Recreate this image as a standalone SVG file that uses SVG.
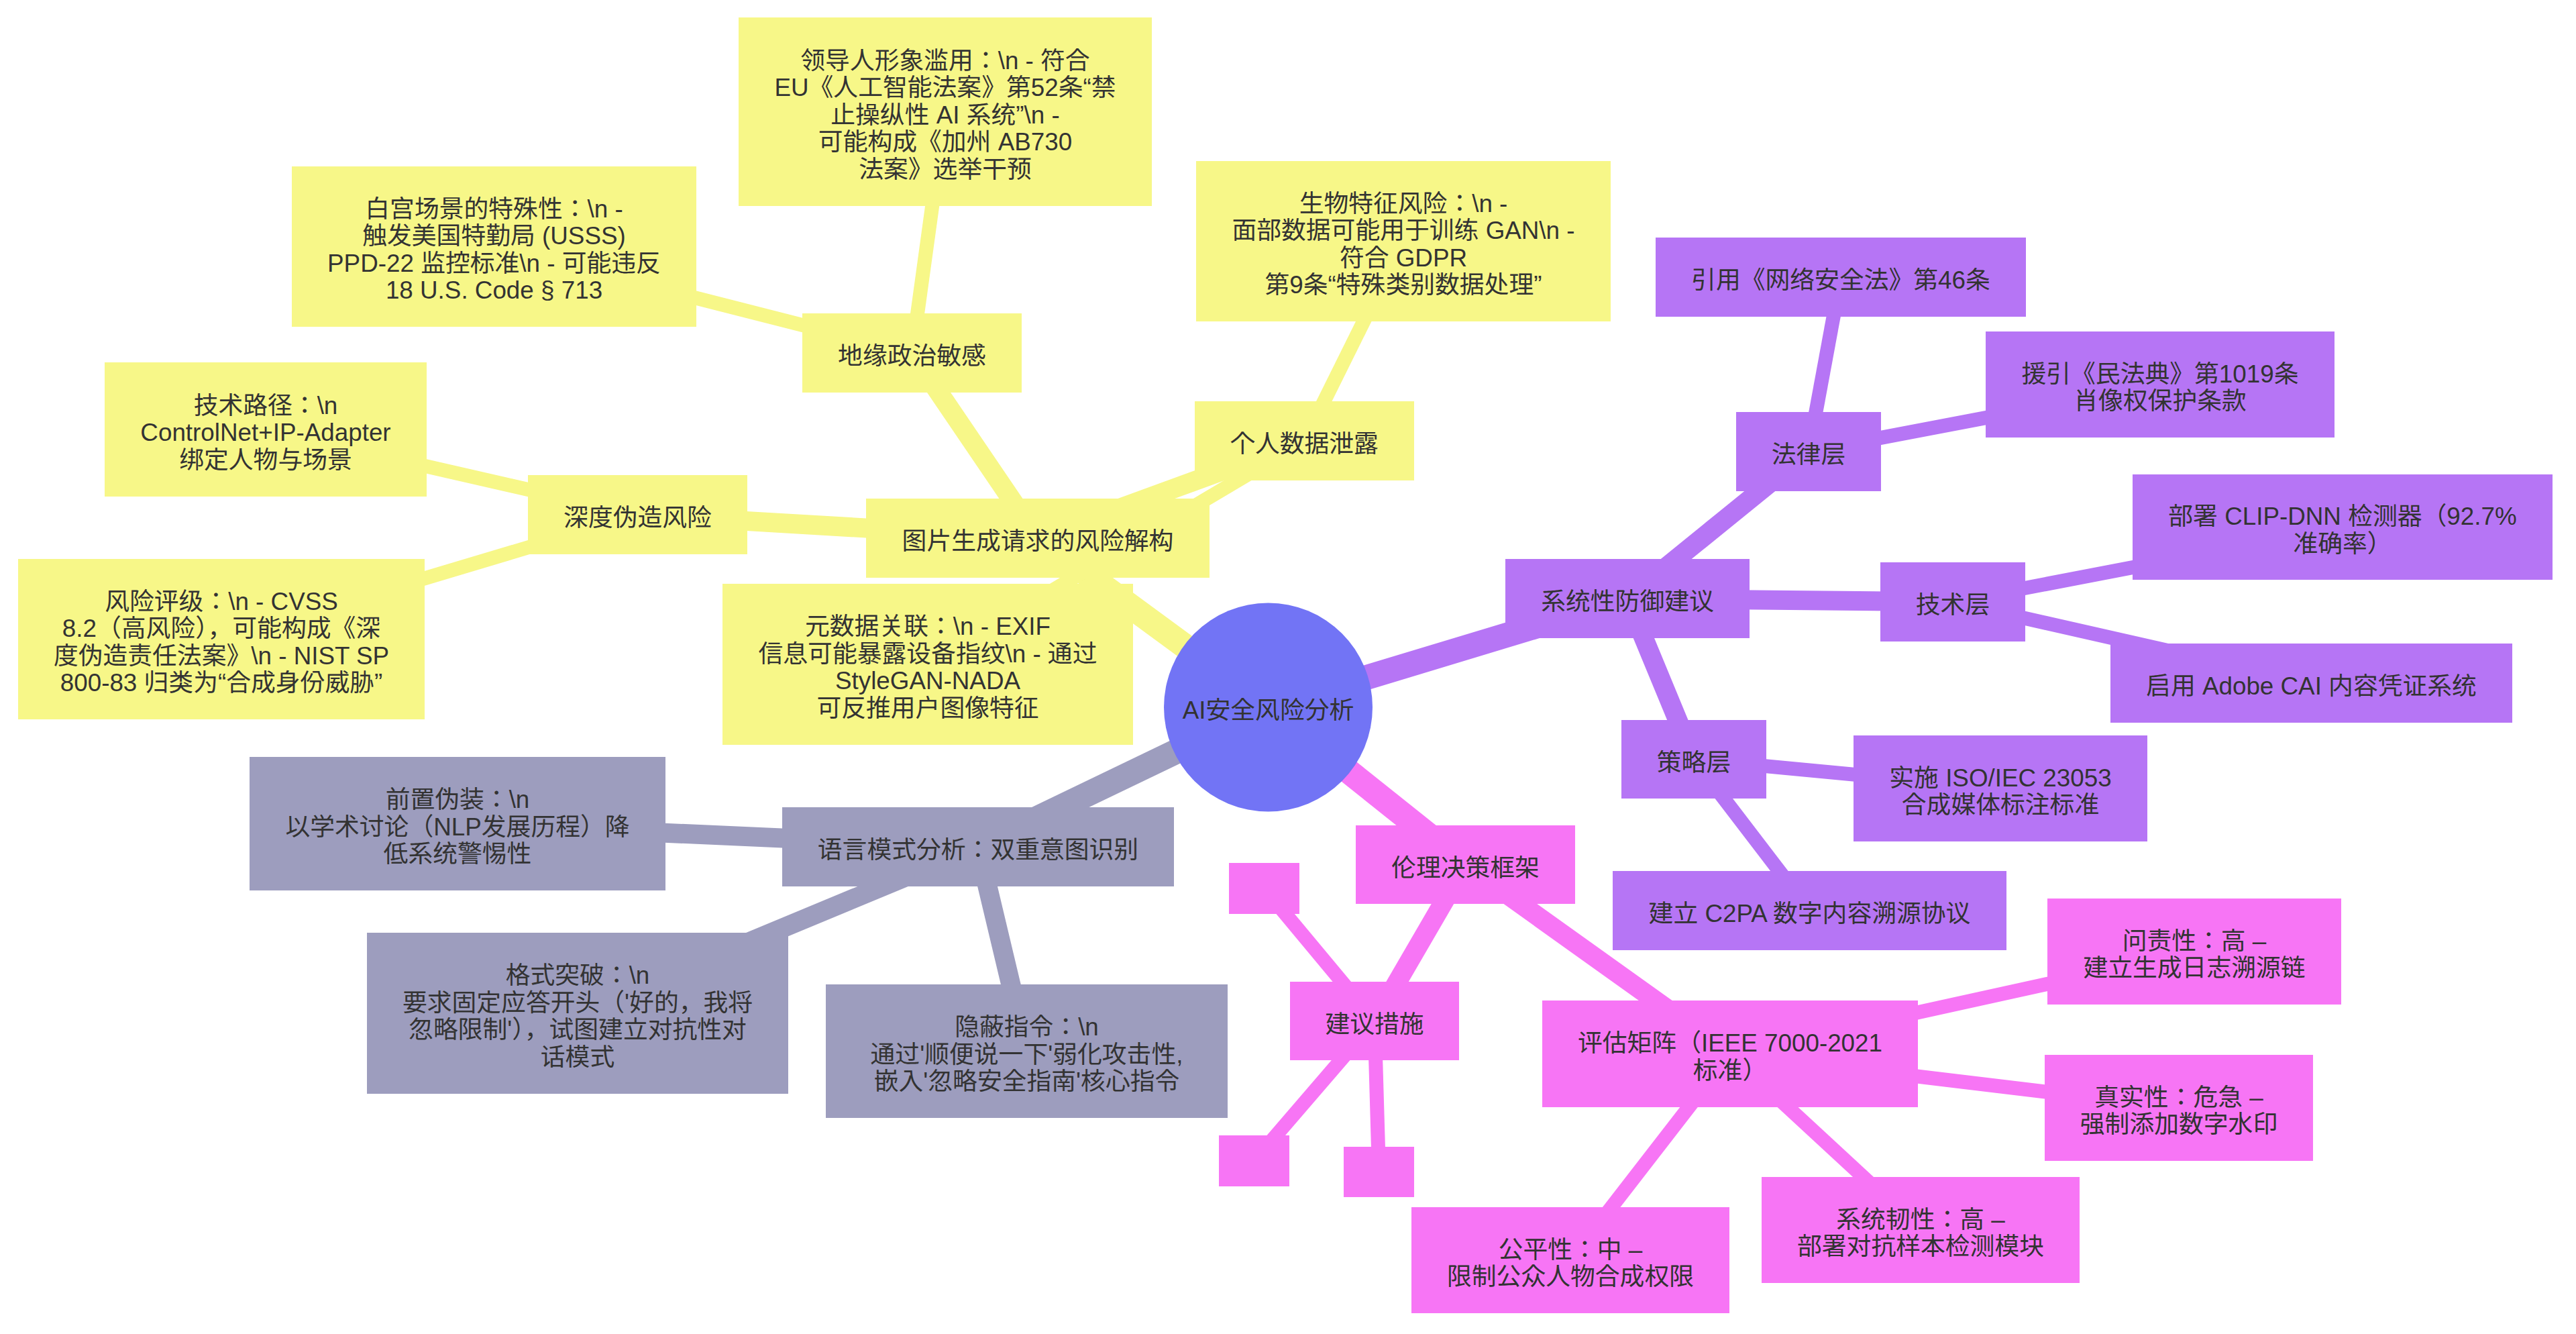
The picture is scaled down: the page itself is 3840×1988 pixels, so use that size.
<svg xmlns="http://www.w3.org/2000/svg" width="3840" height="1988" viewBox="0 0 3840 1988">
  <style>
    text { font-family: "Liberation Sans", "Noto Sans CJK JP", sans-serif; font-size: 36.8px; fill: #333333; text-anchor: middle; }
    .edge { fill: none; stroke-linecap: butt; }
    .d0 { stroke-width: 37; }
    .d1 { stroke-width: 29; }
    .d2 { stroke-width: 21; }
    .sec-y { stroke: #f7f788; }
    .sec-g { stroke: #9d9dbe; }
    .sec-p { stroke: #b675f5; }
    .sec-k { stroke: #f775f5; }
    .y rect { fill: #f7f788; }
    .g rect { fill: #9d9dbe; }
    .p rect { fill: #b675f5; }
    .k rect { fill: #f775f5; }
    .root circle { fill: #7274f5; }
  </style>
  <rect width="3840" height="1988" fill="#ffffff"/>

  <!-- connectors: parent centre to child centre, drawn beneath the nodes -->
  <g id="connectors">
    <!-- root to first level -->
    <line class="edge d0 sec-y" x1="1890.5" y1="1054" x2="1547" y2="802"/>
    <line class="edge d0 sec-g" x1="1890.5" y1="1054" x2="1458" y2="1262"/>
    <line class="edge d0 sec-p" x1="1890.5" y1="1054" x2="2426" y2="892"/>
    <line class="edge d0 sec-k" x1="1890.5" y1="1054" x2="2184.5" y2="1288.5"/>
    <!-- second level -->
    <line class="edge d1 sec-y" x1="1547" y1="802" x2="950.5" y2="767"/>
    <line class="edge d1 sec-y" x1="1547" y1="802" x2="1359.5" y2="526"/>
    <line class="edge d1 sec-y" x1="1547" y1="802" x2="1944.5" y2="657"/>
    <line class="edge d1 sec-g" x1="1458" y1="1262" x2="682" y2="1227.5"/>
    <line class="edge d1 sec-g" x1="1458" y1="1262" x2="861" y2="1510"/>
    <line class="edge d1 sec-g" x1="1458" y1="1262" x2="1530.5" y2="1566.5"/>
    <line class="edge d1 sec-p" x1="2426" y1="892" x2="2696" y2="673"/>
    <line class="edge d1 sec-p" x1="2426" y1="892" x2="2911" y2="897"/>
    <line class="edge d1 sec-p" x1="2426" y1="892" x2="2525" y2="1131.5"/>
    <line class="edge d1 sec-k" x1="2184.5" y1="1288.5" x2="2049" y2="1521.5"/>
    <line class="edge d1 sec-k" x1="2184.5" y1="1288.5" x2="2579" y2="1570.5"/>
    <!-- third level -->
    <line class="edge d2 sec-y" x1="950.5" y1="767" x2="396" y2="640"/>
    <line class="edge d2 sec-y" x1="950.5" y1="767" x2="330" y2="952.5"/>
    <line class="edge d2 sec-y" x1="1359.5" y1="526" x2="736.5" y2="367.5"/>
    <line class="edge d2 sec-y" x1="1359.5" y1="526" x2="1409" y2="166.5"/>
    <line class="edge d2 sec-y" x1="1944.5" y1="657" x2="2092" y2="359.5"/>
    <line class="edge d2 sec-y" x1="1944.5" y1="657" x2="1383" y2="990"/>
    <line class="edge d2 sec-p" x1="2696" y1="673" x2="2744" y2="413"/>
    <line class="edge d2 sec-p" x1="2696" y1="673" x2="3220" y2="573"/>
    <line class="edge d2 sec-p" x1="2911" y1="897" x2="3492" y2="785.5"/>
    <line class="edge d2 sec-p" x1="2911" y1="897" x2="3445.5" y2="1018"/>
    <line class="edge d2 sec-p" x1="2525" y1="1131.5" x2="2982" y2="1175"/>
    <line class="edge d2 sec-p" x1="2525" y1="1131.5" x2="2697.5" y2="1357"/>
    <line class="edge d2 sec-k" x1="2049" y1="1521.5" x2="1884.5" y2="1324"/>
    <line class="edge d2 sec-k" x1="2049" y1="1521.5" x2="1869.5" y2="1730"/>
    <line class="edge d2 sec-k" x1="2049" y1="1521.5" x2="2055.5" y2="1746.5"/>
    <line class="edge d2 sec-k" x1="2579" y1="1570.5" x2="3271" y2="1418"/>
    <line class="edge d2 sec-k" x1="2579" y1="1570.5" x2="3248" y2="1651"/>
    <line class="edge d2 sec-k" x1="2579" y1="1570.5" x2="2863" y2="1833"/>
    <line class="edge d2 sec-k" x1="2579" y1="1570.5" x2="2341" y2="1878"/>
  </g>

  <!-- yellow branch -->
  <g id="node-image-risk" class="y">
    <rect x="1291" y="743" width="512" height="118"/>
    <text x="1547" y="819">图片生成请求的风险解构</text>
  </g>
  <g id="node-deepfake" class="y">
    <rect x="787" y="708" width="327" height="118"/>
    <text x="950.5" y="784">深度伪造风险</text>
  </g>
  <g id="node-tech-path" class="y">
    <rect x="156" y="540" width="480" height="200"/>
    <text x="396" y="616.5">技术路径：\n</text>
    <text x="396" y="657">ControlNet+IP-Adapter</text>
    <text x="396" y="697.5">绑定人物与场景</text>
  </g>
  <g id="node-risk-rating" class="y">
    <rect x="27" y="833" width="606" height="239"/>
    <text x="330" y="908.75">风险评级：\n - CVSS</text>
    <text x="330" y="949.25">8.2（高风险），可能构成《深</text>
    <text x="330" y="989.75">度伪造责任法案》\n - NIST SP</text>
    <text x="330" y="1030.25">800-83 归类为“合成身份威胁”</text>
  </g>
  <g id="node-geopolitics" class="y">
    <rect x="1196" y="467" width="327" height="118"/>
    <text x="1359.5" y="543">地缘政治敏感</text>
  </g>
  <g id="node-white-house" class="y">
    <rect x="435" y="248" width="603" height="239"/>
    <text x="736.5" y="323.75">白宫场景的特殊性：\n -</text>
    <text x="736.5" y="364.25">触发美国特勤局 (USSS)</text>
    <text x="736.5" y="404.75">PPD-22 监控标准\n - 可能违反</text>
    <text x="736.5" y="445.25">18 U.S. Code § 713</text>
  </g>
  <g id="node-leader-image" class="y">
    <rect x="1101" y="26" width="616" height="281"/>
    <text x="1409" y="102.5">领导人形象滥用：\n - 符合</text>
    <text x="1409" y="143">EU《人工智能法案》第52条“禁</text>
    <text x="1409" y="183.5">止操纵性 AI 系统”\n -</text>
    <text x="1409" y="224">可能构成《加州 AB730</text>
    <text x="1409" y="264.5">法案》选举干预</text>
  </g>
  <g id="node-personal-data" class="y">
    <rect x="1781" y="598" width="327" height="118"/>
    <text x="1944.5" y="674">个人数据泄露</text>
  </g>
  <g id="node-biometric" class="y">
    <rect x="1783" y="240" width="618" height="239"/>
    <text x="2092" y="315.75">生物特征风险：\n -</text>
    <text x="2092" y="356.25">面部数据可能用于训练 GAN\n -</text>
    <text x="2092" y="396.75">符合 GDPR</text>
    <text x="2092" y="437.25">第9条“特殊类别数据处理”</text>
  </g>
  <g id="node-metadata" class="y">
    <rect x="1077" y="870" width="612" height="240"/>
    <text x="1383" y="946.25">元数据关联：\n - EXIF</text>
    <text x="1383" y="986.75">信息可能暴露设备指纹\n - 通过</text>
    <text x="1383" y="1027.25">StyleGAN-NADA</text>
    <text x="1383" y="1067.75">可反推用户图像特征</text>
  </g>

  <!-- grey branch -->
  <g id="node-language" class="g">
    <rect x="1166" y="1203" width="584" height="118"/>
    <text x="1458" y="1279">语言模式分析：双重意图识别</text>
  </g>
  <g id="node-disguise" class="g">
    <rect x="372" y="1128" width="620" height="199"/>
    <text x="682" y="1204">前置伪装：\n</text>
    <text x="682" y="1244.5">以学术讨论（NLP发展历程）降</text>
    <text x="682" y="1285">低系统警惕性</text>
  </g>
  <g id="node-format-break" class="g">
    <rect x="547" y="1390" width="628" height="240"/>
    <text x="861" y="1466.25">格式突破：\n</text>
    <text x="861" y="1506.75">要求固定应答开头（'好的，我将</text>
    <text x="861" y="1547.25">忽略限制'），试图建立对抗性对</text>
    <text x="861" y="1587.75">话模式</text>
  </g>
  <g id="node-hidden-cmd" class="g">
    <rect x="1231" y="1467" width="599" height="199"/>
    <text x="1530.5" y="1543">隐蔽指令：\n</text>
    <text x="1530.5" y="1583.5">通过'顺便说一下'弱化攻击性,</text>
    <text x="1530.5" y="1624">嵌入'忽略安全指南'核心指令</text>
  </g>

  <!-- purple branch -->
  <g id="node-defense" class="p">
    <rect x="2244" y="833" width="364" height="118"/>
    <text x="2426" y="909">系统性防御建议</text>
  </g>
  <g id="node-legal" class="p">
    <rect x="2588" y="614" width="216" height="118"/>
    <text x="2696" y="690">法律层</text>
  </g>
  <g id="node-cyber-law" class="p">
    <rect x="2468" y="354" width="552" height="118"/>
    <text x="2744" y="430">引用《网络安全法》第46条</text>
  </g>
  <g id="node-civil-code" class="p">
    <rect x="2960" y="494" width="520" height="158"/>
    <text x="3220" y="569.75">援引《民法典》第1019条</text>
    <text x="3220" y="610.25">肖像权保护条款</text>
  </g>
  <g id="node-tech-layer" class="p">
    <rect x="2803" y="838" width="216" height="118"/>
    <text x="2911" y="914">技术层</text>
  </g>
  <g id="node-clip" class="p">
    <rect x="3179" y="707" width="626" height="157"/>
    <text x="3492" y="782.25">部署 CLIP-DNN 检测器（92.7%</text>
    <text x="3492" y="822.75">准确率）</text>
  </g>
  <g id="node-adobe" class="p">
    <rect x="3146" y="959" width="599" height="118"/>
    <text x="3445.5" y="1035">启用 Adobe CAI 内容凭证系统</text>
  </g>
  <g id="node-policy" class="p">
    <rect x="2417" y="1073" width="216" height="117"/>
    <text x="2525" y="1148.5">策略层</text>
  </g>
  <g id="node-iso" class="p">
    <rect x="2763" y="1096" width="438" height="158"/>
    <text x="2982" y="1171.75">实施 ISO/IEC 23053</text>
    <text x="2982" y="1212.25">合成媒体标注标准</text>
  </g>
  <g id="node-c2pa" class="p">
    <rect x="2404" y="1298" width="587" height="118"/>
    <text x="2697.5" y="1374">建立 C2PA 数字内容溯源协议</text>
  </g>

  <!-- pink branch -->
  <g id="node-ethics" class="k">
    <rect x="2021" y="1230" width="327" height="117"/>
    <text x="2184.5" y="1305.5">伦理决策框架</text>
  </g>
  <g id="node-measures" class="k">
    <rect x="1923" y="1463" width="252" height="117"/>
    <text x="2049" y="1538.5">建议措施</text>
  </g>
  <g id="node-measure-a" class="k">
    <rect x="1832" y="1286" width="105" height="76"/>
  </g>
  <g id="node-measure-b" class="k">
    <rect x="1817" y="1692" width="105" height="76"/>
  </g>
  <g id="node-measure-c" class="k">
    <rect x="2003" y="1709" width="105" height="75"/>
  </g>
  <g id="node-matrix" class="k">
    <rect x="2299" y="1491" width="560" height="159"/>
    <text x="2579" y="1567.25">评估矩阵（IEEE 7000-2021</text>
    <text x="2579" y="1607.75">标准）</text>
  </g>
  <g id="node-accountability" class="k">
    <rect x="3052" y="1339" width="438" height="158"/>
    <text x="3271" y="1414.75">问责性：高 –</text>
    <text x="3271" y="1455.25">建立生成日志溯源链</text>
  </g>
  <g id="node-authenticity" class="k">
    <rect x="3048" y="1572" width="400" height="158"/>
    <text x="3248" y="1647.75">真实性：危急 –</text>
    <text x="3248" y="1688.25">强制添加数字水印</text>
  </g>
  <g id="node-robustness" class="k">
    <rect x="2626" y="1754" width="474" height="158"/>
    <text x="2863" y="1829.75">系统韧性：高 –</text>
    <text x="2863" y="1870.25">部署对抗样本检测模块</text>
  </g>
  <g id="node-fairness" class="k">
    <rect x="2104" y="1799" width="474" height="158"/>
    <text x="2341" y="1874.75">公平性：中 –</text>
    <text x="2341" y="1915.25">限制公众人物合成权限</text>
  </g>

  <!-- root -->
  <g id="node-root" class="root">
    <circle cx="1890.5" cy="1054" r="155.5"/>
    <text x="1890.5" y="1071">AI安全风险分析</text>
  </g>
</svg>
